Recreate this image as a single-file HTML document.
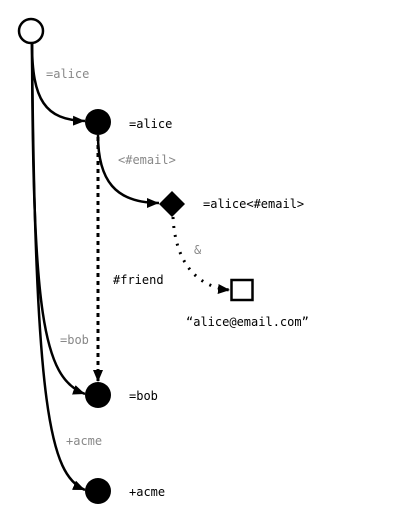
<!DOCTYPE html>
<html><head><meta charset="utf-8"><style>
html,body{margin:0;padding:0;background:#fff;width:400px;height:518px;overflow:hidden}
text{font-family:"DejaVu Sans Mono","Liberation Mono",monospace;font-size:12px}
.g{fill:#888}
</style></head><body>
<svg width="400" height="518" viewBox="0 0 400 518" xmlns="http://www.w3.org/2000/svg">
<defs>
<marker id="a" markerWidth="12" markerHeight="10" refX="12" refY="5" orient="auto" markerUnits="userSpaceOnUse">
<path d="M0,0 L12,5 L0,10 z" fill="#000"/></marker>
</defs>
<g fill="none" stroke="#000" stroke-width="2.5">
<path d="M32,43 C32,100 45,120 85,121" marker-end="url(#a)"/>
<path d="M32,43 C33,310 42,378 85,394" marker-end="url(#a)"/>
<path d="M32,43 C35,410 50,475 85,490" marker-end="url(#a)"/>
<path d="M98,135 C98,180 115,203 159,203" marker-end="url(#a)"/>
<path d="M98,137 L98,382" stroke-dasharray="4,4" stroke-width="3" marker-end="url(#a)"/>
<path d="M173,217 C175,260 195,287 230,290" stroke-dasharray="2,7" stroke-width="3" marker-end="url(#a)"/>
<circle cx="31" cy="31" r="12" fill="#fff"/>
<rect x="231.5" y="280" width="21" height="20" fill="#fff"/>
</g>
<circle cx="98" cy="122" r="13"/>
<circle cx="98" cy="395" r="13"/>
<circle cx="98" cy="491" r="13"/>
<path d="M172,191 L185,204 L172,217 L159,204 z"/>
<text x="46" y="78" class="g">=alice</text>
<text x="129" y="128">=alice</text>
<text x="118" y="164" class="g">&lt;#email&gt;</text>
<text x="203" y="208">=alice&lt;#email&gt;</text>
<text x="194" y="254" class="g">&amp;</text>
<text x="113" y="284">#friend</text>
<text x="186" y="326">“alice@email.com”</text>
<text x="60" y="344" class="g">=bob</text>
<text x="129" y="400">=bob</text>
<text x="66" y="445" class="g">+acme</text>
<text x="129" y="496">+acme</text>
</svg>
</body></html>
